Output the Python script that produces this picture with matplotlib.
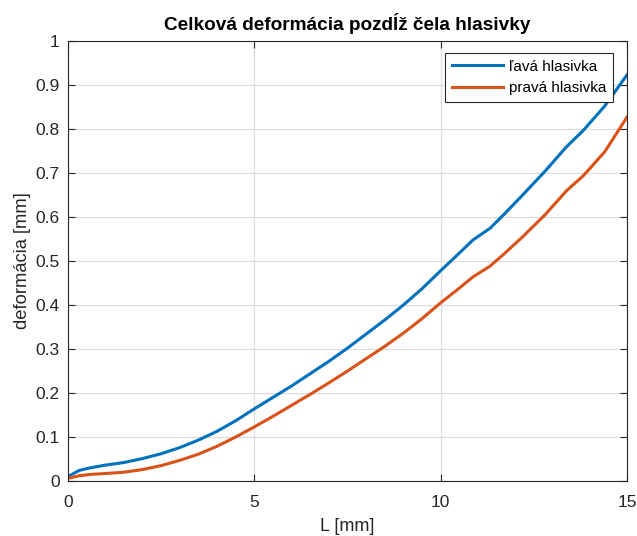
import numpy as np
import matplotlib
matplotlib.use('Agg')
import matplotlib.pyplot as plt

plt.rcParams['font.family'] = ['Liberation Sans', 'DejaVu Sans']

# hodnoty odčítané z grafu
L_mm = [0, 0.3, 0.6, 1.0, 1.5, 2.0, 2.5, 3.0, 3.5, 4.0, 4.5, 5.0, 5.5, 6.0, 6.5, 7.0,
        7.5, 8.0, 8.5, 9.0, 9.5, 10.0, 10.45, 10.87, 11.32, 11.7, 12.2, 12.8, 13.38,
        13.83, 14.4, 15.0]
lava = [0.010, 0.024, 0.030, 0.036, 0.042, 0.051, 0.062, 0.076, 0.093, 0.113, 0.137,
        0.164, 0.190, 0.216, 0.244, 0.272, 0.302, 0.334, 0.366, 0.400, 0.437, 0.478,
        0.514, 0.548, 0.574, 0.606, 0.650, 0.704, 0.760, 0.797, 0.852, 0.923]
prava = [0.006, 0.012, 0.015, 0.017, 0.020, 0.026, 0.035, 0.047, 0.061, 0.079, 0.100,
         0.123, 0.147, 0.172, 0.197, 0.223, 0.250, 0.278, 0.306, 0.336, 0.369, 0.405,
         0.435, 0.464, 0.488, 0.516, 0.555, 0.605, 0.660, 0.694, 0.748, 0.827]

fig = plt.figure(figsize=(6.37, 5.36), dpi=100)
ax = fig.add_axes([68 / 637, 1 - 481 / 536, (627 - 68) / 637, (481 - 41) / 536])

ax.plot(L_mm, lava, color='#0072BD', lw=2.2, label='ľavá hlasivka')
ax.plot(L_mm, prava, color='#D95319', lw=2.2, label='pravá hlasivka')

ax.set_xlim(0, 15)
ax.set_ylim(0, 1)
ax.set_xticks([0, 5, 10, 15])
ax.set_yticks(np.arange(0, 1.01, 0.1))
ax.set_yticklabels(['0', '0.1', '0.2', '0.3', '0.4', '0.5', '0.6', '0.7', '0.8', '0.9', '1'])
ax.grid(True, color='#dcdcdc', lw=0.9)
ax.set_axisbelow(True)
ax.tick_params(direction='in', length=5, labelsize=12.5, colors='#262626',
               top=True, right=True)
ax.tick_params(axis='x', pad=10)
ax.tick_params(axis='y', pad=6)
for s in ax.spines.values():
    s.set_color('#262626')
    s.set_linewidth(0.8)

ax.set_xlabel('L [mm]', fontsize=13, color='#262626', labelpad=6)
ax.set_ylabel('deformácia [mm]', fontsize=13.2, color='#262626', labelpad=3)
ax.set_title('Celková deformácia pozdĺž čela hlasivky', fontsize=13.7,
             fontweight='bold', pad=8)

leg = ax.legend(loc='upper right', bbox_to_anchor=(0.975, 0.973), fontsize=11,
                fancybox=False, framealpha=1, edgecolor='#262626',
                handlelength=3.3, borderpad=0.45, labelspacing=0.5,
                handletextpad=0.4, borderaxespad=0)
leg.get_frame().set_linewidth(0.8)

fig.savefig('out.png', dpi=100)
